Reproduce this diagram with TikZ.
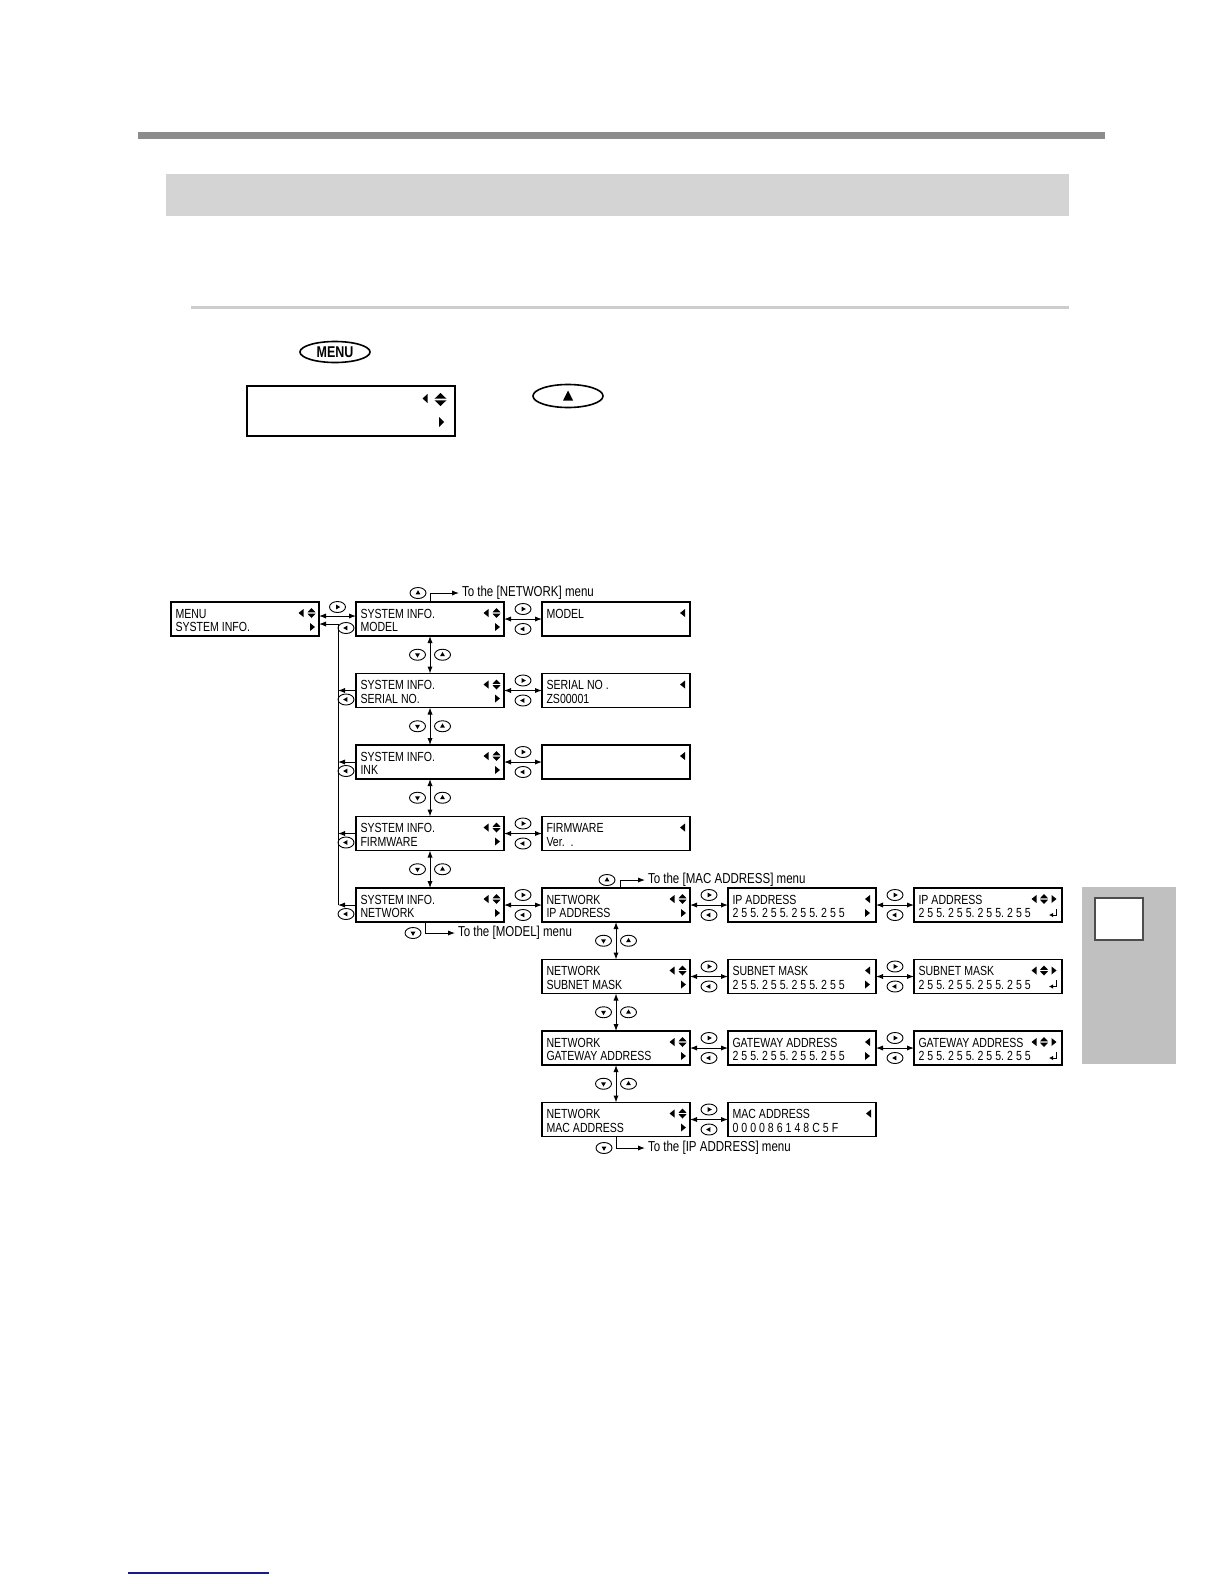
\documentclass[tikz,border=0pt]{standalone}
\usepackage{fontspec}
\newfontfamily\lcdfont{Liberation Sans}[FakeStretch=0.8]
\usetikzlibrary{arrows.meta,calc,shapes.geometric}
\frenchspacing

\definecolor{barre}{HTML}{8C8C8C}
\definecolor{bandeau}{HTML}{D4D4D4}
\definecolor{filet}{HTML}{CDCDCD}
\definecolor{onglet}{HTML}{C0C0C0}
\definecolor{cadre}{HTML}{4D4D4D}
\definecolor{bleulien}{HTML}{1A1A8C}

\newcommand\lcdstrut{\rule{0pt}{6pt}}
\newcommand\serre{\spaceskip=1.5pt\relax}

\tikzset{
  afficheur/.style={draw, line width=0.9pt, anchor=north west, outer sep=0pt,
    inner xsep=2.25pt, inner ysep=0.5pt, text width=69.5pt, minimum height=17pt,
    align=left, font=\lcdfont\fontsize{6.6}{6.75}\selectfont},
  liaison/.style={line width=0.5pt, {Latex[length=3.5pt,width=2.6pt]}-{Latex[length=3.5pt,width=2.6pt]}},
  renvoi/.style={line width=0.5pt, -{Latex[length=3.5pt,width=2.6pt]}},
  legende/.style={anchor=west, inner sep=0pt, outer sep=1.5pt, font=\lcdfont\fontsize{7.2}{8}\selectfont},
  pics/touche/.style={code={
    \draw[line width=0.45pt] (0,0) ellipse [x radius=8, y radius=5.5];
    \fill[rotate=#1] (0:2.8) -- (120:2.8) -- (240:2.8) -- cycle;
  }},
  pics/symmenu/.style={code={
    \fill[shift={(130,11)}] (2.5,-4) -- (2.5,4) -- (-2.5,0) -- cycle;
    \fill[shift={(140.5,11)}] (-4,-0.7) -- (4,-0.7) -- (0,-5) -- cycle
      (-4,0.7) -- (4,0.7) -- (0,5) -- cycle;
    \fill[shift={(141.5,25)}] (-2.5,-4) -- (-2.5,4) -- (2.5,0) -- cycle;
  }},
  pics/symvaleur/.style={code={
    \fill[shift={(140.5,11)}] (2.5,-4) -- (2.5,4) -- (-2.5,0) -- cycle;
  }},
  pics/symvaleurs/.style={code={
    \fill[shift={(139.5,11)}] (2.5,-4) -- (2.5,4) -- (-2.5,0) -- cycle;
    \fill[shift={(139.5,25)}] (-2.5,-4) -- (-2.5,4) -- (2.5,0) -- cycle;
  }},
  pics/symsaisie/.style={code={
    \fill[shift={(120,11)}] (2.5,-4) -- (2.5,4) -- (-2.5,0) -- cycle;
    \fill[shift={(130,11)}] (-4,-0.7) -- (4,-0.7) -- (0,-5) -- cycle
      (-4,0.7) -- (4,0.7) -- (0,5) -- cycle;
    \fill[shift={(140,11)}] (-2.5,-4) -- (-2.5,4) -- (2.5,0) -- cycle;
    \draw[line width=0.45pt, -{Latex[length=2pt,width=2.2pt]}] (142.5,20.5) -- (142.5,27) -- (135,27);
  }},
}

\begin{document}
\begin{tikzpicture}[x=0.5pt,y=-0.5pt]
  \useasboundingbox (0,0) rectangle (1224,1584);

  % Bandeaux de page
  \fill[barre] (138,132) rectangle (1105,139);
  \fill[bandeau] (166,174) rectangle (1069,216);
  \fill[filet] (191,305.5) rectangle (1069,308.5);

  % Touches et écran
  \node[draw, ellipse, line width=0.8pt, minimum width=35pt, minimum height=10.5pt, inner sep=0pt,
    font=\lcdfont\bfseries\fontsize{7.8}{8}\selectfont] (btnmenu) at (335,352) {MENU};
  \node[draw, line width=1pt, anchor=north west, minimum width=104pt, minimum height=25pt,
    inner sep=0pt] (ecran) at (246,385) {};
  \fill[shift={(425,398.5)}] (2.5,-4.5) -- (2.5,4.5) -- (-2.5,0) -- cycle;
  \fill[shift={(440.5,399.5)}] (-6,-0.8) -- (6,-0.8) -- (0,-6.5) -- cycle
    (-6,0.8) -- (6,0.8) -- (0,6.5) -- cycle;
  \fill[shift={(441.5,422)}] (-2.5,-5) -- (-2.5,5) -- (2.5,0) -- cycle;
  \node[draw, ellipse, line width=0.8pt, minimum width=35pt, minimum height=11.5pt,
    inner sep=0pt] (btnhaut) at (568,396) {};
  \fill[shift={(btnhaut.center)}] (-5,4.5) -- (5,4.5) -- (0,-5.5) -- cycle;

  % Onglet latéral
  \fill[onglet] (1082,887) rectangle (1176,1064);
  \draw[cadre, line width=0.7pt, fill=white] (1095,898) rectangle (1143,940);

  % Lien en bas de page
  \draw[bleulien, line width=0.8pt] (128,1573) -- (269,1573);

  % Afficheurs de menu
  \foreach \n/\x/\y/\a/\b in {menu/171/602/MENU/SYSTEM INFO.,
      s1/356/602/SYSTEM INFO./MODEL, s2/356/673.5/SYSTEM INFO./SERIAL NO.,
      s3/356/745/SYSTEM INFO./INK, s4/356/816.5/SYSTEM INFO./FIRMWARE,
      s5/356/888/SYSTEM INFO./NETWORK,
      n1/542/888/NETWORK/IP ADDRESS, n2/542/959.5/NETWORK/SUBNET MASK,
      n3/542/1031/NETWORK/GATEWAY ADDRESS, n4/542/1102.5/NETWORK/MAC ADDRESS}{
    \node[afficheur] (\n) at (\x,\y) {\serre\lcdstrut\a\\\lcdstrut\b};
    \pic at (\n.north west) {symmenu};
  }

  % Afficheurs de valeur
  \foreach \n/\x/\y/\a/\b in {v1/542/602/MODEL/, v2/542/673.5/SERIAL NO ./ZS00001,
      v3/542/745//, v4/542/816.5/FIRMWARE/Ver.~~.,
      a4/728/1102.5/MAC ADDRESS/0 0 0 0 8 6 1 4 8 C 5 F}{
    \node[afficheur] (\n) at (\x,\y) {\serre\lcdstrut\a\\\lcdstrut\b};
    \pic at (\n.north west) {symvaleur};
  }
  \foreach \n/\y/\a in {a1/888/IP ADDRESS, a2/959.5/SUBNET MASK, a3/1031/GATEWAY ADDRESS}{
    \node[afficheur] (\n) at (728,\y) {\serre\lcdstrut\a\\\lcdstrut 2 5 5. 2 5 5. 2 5 5. 2 5 5};
    \pic at (\n.north west) {symvaleurs};
  }
  \foreach \n/\y/\a in {e1/888/IP ADDRESS, e2/959.5/SUBNET MASK, e3/1031/GATEWAY ADDRESS}{
    \node[afficheur] (\n) at (914,\y) {\serre\lcdstrut\a\\\lcdstrut 2 5 5. 2 5 5. 2 5 5. 2 5 5};
    \pic at (\n.north west) {symsaisie};
  }

  % MENU <-> SYSTEM INFO.
  \draw[liaison] ([yshift=1.5pt]menu.east) -- ([yshift=1.5pt]s1.west);
  \pic at ($(menu.east)!.5!(s1.west)+(0,-12)$) {touche=0};
  \coordinate (rail) at (338,624);
  \draw[renvoi] (rail) -- (rail -| menu.east);
  \draw[line width=0.5pt] (rail) -- (rail |- s5.west);
  \foreach \n in {s2,s3,s4,s5}
    \draw[renvoi] (\n.west) -- (\n.west -| rail);
  \foreach \n in {s1,s2,s3,s4,s5}
    \pic at ($(\n.west)+(-10,9)$) {touche=180};

  % Liaisons horizontales
  \foreach \a/\b in {s1/v1, s2/v2, s3/v3, s4/v4, s5/n1, n1/a1, n2/a2, n3/a3, n4/a4,
      a1/e1, a2/e2, a3/e3}{
    \draw[liaison] (\a.east) -- (\b.west);
    \pic at ($(\a.east)!.5!(\b.west)+(0,-10)$) {touche=0};
    \pic at ($(\a.east)!.5!(\b.west)+(0,10)$) {touche=180};
  }

  % Liaisons verticales
  \foreach \a/\b in {s1/s2, s2/s3, s3/s4, s4/s5, n1/n2, n2/n3, n3/n4}{
    \draw[liaison] (\a.south) -- (\b.north);
    \pic at ($(\a.south)!.5!(\b.north)+(-12.5,0)$) {touche=270};
    \pic at ($(\a.south)!.5!(\b.north)+(12.5,0)$) {touche=90};
  }

  % Renvois
  \node[legende] (versnet) at (459,593) {To the [NETWORK] menu};
  \draw[renvoi] (s1.north) |- (versnet.west);
  \pic at ($(s1.north)+(-12,-9)$) {touche=90};
  \node[legende] (versmodel) at (455,933) {To the [MODEL] menu};
  \draw[renvoi] ([xshift=-2.5pt]s5.south) |- (versmodel.west);
  \pic at ($(s5.south)+(-17,11)$) {touche=270};
  \node[legende] (versmac) at (645,880) {To the [MAC ADDRESS] menu};
  \draw[renvoi] ([xshift=2pt]n1.north) |- (versmac.west);
  \pic at ($(n1.north)+(-9,-8)$) {touche=90};
  \node[legende] (versip) at (645,1148) {To the [IP ADDRESS] menu};
  \draw[renvoi] (n4.south) |- (versip.west);
  \pic at ($(n4.south)+(-12,11.5)$) {touche=270};

\end{tikzpicture}
\end{document}
